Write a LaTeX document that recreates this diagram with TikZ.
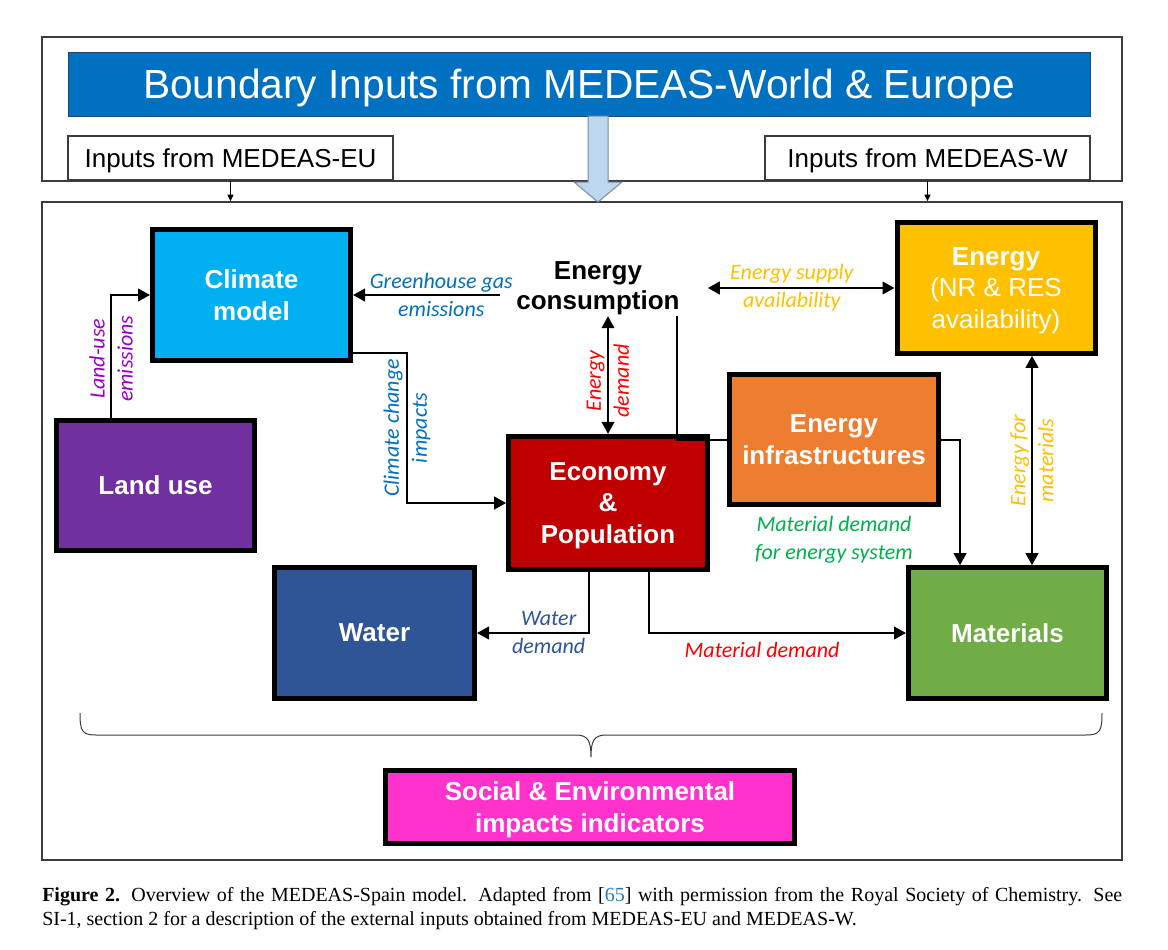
\documentclass[tikz,border=0pt]{standalone}
\usepackage{fontspec}
\setmainfont{Liberation Serif}
\setsansfont{Liberation Sans}
\newfontfamily\calibri{Carlito}
\usepackage{tikz}
\usetikzlibrary{arrows.meta,positioning,calc}
\usepackage{xcolor}
\definecolor{mdbanner}{RGB}{0,112,192}
\definecolor{mdbannerline}{RGB}{40,70,110}
\definecolor{mdpipe}{RGB}{189,215,238}
\definecolor{mdpipeline}{RGB}{120,140,165}
\definecolor{mdframe}{RGB}{60,60,60}
\definecolor{mdclimate}{RGB}{0,176,240}
\definecolor{mdland}{RGB}{112,48,160}
\definecolor{mdenergy}{RGB}{255,192,0}
\definecolor{mdeconomy}{RGB}{192,0,0}
\definecolor{mdinfra}{RGB}{237,125,49}
\definecolor{mdwater}{RGB}{47,85,151}
\definecolor{mdmaterial}{RGB}{112,173,71}
\definecolor{mdsocial}{RGB}{255,51,204}
\definecolor{mdblue}{RGB}{0,112,192}
\definecolor{mdpurple}{RGB}{153,0,204}
\definecolor{mdyellow}{RGB}{255,192,0}
\definecolor{mdred}{RGB}{255,0,0}
\definecolor{mdgreen}{RGB}{0,176,80}
\definecolor{mdcite}{RGB}{42,123,187}
\tikzstyle{block} = [rectangle, draw=black, line width=3.75pt, minimum width=148.5pt, minimum height=98pt, inner sep=0pt, text depth=0pt, align=center, text=white, font=\sffamily\bfseries\fontsize{19.5}{23.5}\selectfont]
\tikzstyle{frame} = [rectangle, draw=mdframe, line width=1.1pt, minimum width=810pt]
\tikzstyle{inbox} = [rectangle, draw=mdframe, line width=1.1pt, fill=white, minimum width=243.75pt, minimum height=33pt, text depth=0pt, font=\sffamily\fontsize{19.5}{23}\selectfont]
\tikzstyle{arrow} = [line width=1.5pt, ->, >={Triangle[length=9pt,width=9.5pt]}]
\tikzstyle{small} = [line width=0.9pt, ->, >={Triangle[length=5pt,width=4.5pt]}]
\tikzstyle{lbl} = [font=\calibri\itshape\fontsize{16.5}{21}\selectfont, align=center]

\begin{document}
\begin{tikzpicture}[x=0.75pt, y=-0.75pt]
\fill[white] (0,0) rectangle (1168,950);
\useasboundingbox (0,0) rectangle (1168,950);

% outer inputs
\node (bound) [frame, minimum height=108pt] at (582,109) {};
\node (banner) [rectangle, draw=mdbannerline, fill=mdbanner, line width=0.75pt, minimum width=766.5pt, minimum height=48pt, text height=21pt, text depth=0pt, text=white, font=\sffamily\fontsize{30.5}{34}\selectfont] at (579,84) {Boundary Inputs from MEDEAS-World \& Europe};
\node (eu) [inbox] at (230.5,158) {Inputs from MEDEAS-EU};
\node (w) [inbox] at (927.5,158) {Inputs from MEDEAS-W};
\node (model) [frame, minimum height=493.5pt] at (582,531) {};

% wide arrow into the model
\coordinate (tip) at (598,202);
\draw[fill=mdpipe, draw=mdpipeline, line width=0.75pt] (tip) -- ++(-24,-20) -- ++(14,0) -- ++(0,-66) -- ++(20,0) -- ++(0,66) -- ++(14,0) -- cycle;
\draw[small] (eu.south) -- (eu.south |- model.north);
\draw[small] (w.south) -- (w.south |- model.north);

% modules
\node (clim) [block, fill=mdclimate] at (251.5,295) {Climate\\model};
\node (land) [block, fill=mdland] at (155.5,485.5) {Land use};
\node (cons) [font=\sffamily\bfseries\fontsize{19.5}{22.5}\selectfont, align=center, inner xsep=12pt, inner ysep=1pt] at (598,288) {Energy\\consumption};
\node (en) [block, fill=mdenergy] at (996,288) {Energy\\\mdseries (NR \& RES\\\mdseries availability)};
\node (econ) [block, fill=mdeconomy, minimum width=149pt, minimum height=100pt] at (608,503) {Economy\\\&\\Population};
\node (infra) [block, fill=mdinfra, minimum width=157pt] at (834,439.5) {Energy\\infrastructures};
\node (water) [block, fill=mdwater, minimum width=150pt] at (374.5,633) {Water};
\node (mat) [block, fill=mdmaterial] at (1007.5,633) {Materials};
\node (soc) [block, fill=mdsocial, minimum width=307pt, minimum height=55pt] at (590,807) {Social \& Environmental\\impacts indicators};

% flows
\draw[arrow] ([xshift=-33.4pt]land.north) |- node[lbl, rotate=90, text=mdpurple, pos=0.24] {Land-use\\emissions} (clim.west);
\draw[arrow] (cons.west |- clim.west) -- node[lbl, text=mdblue, pos=0.4] {Greenhouse gas\\emissions} (clim.east);
\draw[arrow, <->] ([xshift=9pt]cons.east |- en.west) -- node[lbl, text=mdyellow, pos=0.45] {Energy supply\\availability} (en.west);
\draw[arrow, <->] (cons.south -| econ.north) -- node[lbl, rotate=90, text=mdred, pos=0.55] {Energy\\demand} (econ.north);
\draw[line width=1.5pt] ([xshift=59pt]cons.south) |- (infra.west);
\draw[arrow] (infra.east) -| ([xshift=-35.6pt]mat.north);
\draw[arrow, <->] ([xshift=27pt]en.south) -- node[lbl, rotate=90, text=mdyellow] {Energy for\\materials} ([xshift=27pt]en.south |- mat.north);
\draw[arrow] ([yshift=7.5pt]clim.south east) -- ++(54,0) |- node[lbl, rotate=90, text=mdblue, pos=0.25] {Climate change\\impacts} (econ.west);
\draw[arrow] ([xshift=-14.25pt]econ.south) |- node[lbl, text=mdwater, pos=0.68] {Water\\demand} (water.east);
\draw[arrow] ([xshift=30.75pt]econ.south) |- node[lbl, text=mdred, pos=0.72, below=2.5pt] {Material demand} (mat.west);
\node (mdes) [lbl, text=mdgreen, below=3pt of infra] {Material demand\\for energy system};

% brace over all modules
\draw[mdframe, line width=0.75pt] (80,713) .. controls (80,731) and (82,735) .. (96,735) -- (576,735) .. controls (588,735) and (591,741) .. (591,757) .. controls (591,741) and (594,735) .. (606,735) -- (1086,735) .. controls (1100,735) and (1102,731) .. (1102,713);

\node (cap) [anchor=north west, text width=810pt, align=justify, inner sep=0pt, font=\fontsize{15}{18}\selectfont] at (42,887) {\textbf{Figure 2.} Overview of the MEDEAS-Spain model. Adapted from [\textcolor{mdcite}{65}] with permission from the Royal Society of Chemistry. See\linebreak SI-1, section 2 for a description of the external inputs obtained from MEDEAS-EU and MEDEAS-W.};
\end{tikzpicture}
\end{document}
